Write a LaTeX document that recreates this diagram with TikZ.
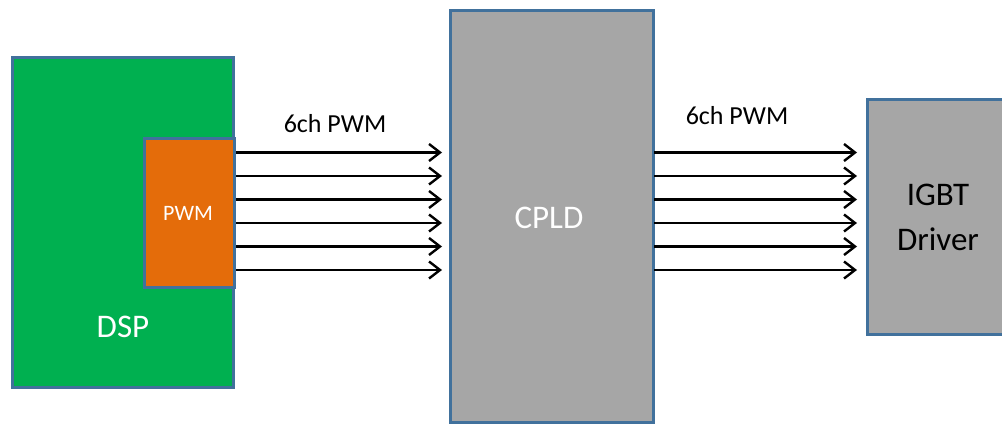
\documentclass[tikz,border=0pt]{standalone}
\usepackage{fontspec}
\setmainfont{Carlito}
\usetikzlibrary{arrows.meta}
\definecolor{edgeblue}{HTML}{41719C}
\definecolor{dspgreen}{HTML}{00B050}
\definecolor{pwmorange}{HTML}{E46C0A}
\definecolor{boxgray}{HTML}{A6A6A6}
\tikzset{
  blk/.style={draw=edgeblue, line width=3pt, inner sep=0pt, outer sep=0pt},
  sig/.style={line width=2.4pt, -{Straight Barb[length=11pt,width=17pt,line width=2.4pt]}},
  bigtxt/.style={font=\fontsize{33}{45}\selectfont, inner sep=0pt},
  midtxt/.style={font=\fontsize{26}{30}\selectfont, inner sep=0pt},
  smalltxt/.style={font=\fontsize{22}{26}\selectfont, inner sep=0pt}
}
\begin{document}
\begin{tikzpicture}[x=1pt,y=-1pt]
\useasboundingbox (0,0) rectangle (1002,425);
\clip (0,0) rectangle (1002,425);
% blocks
\node[blk, fill=dspgreen, minimum width=221pt, minimum height=330pt] (dsp) at (123,222.5) {};
\node[blk, fill=pwmorange, minimum width=90pt, minimum height=148pt] (pwm) at (189,213) {};
\node[blk, fill=boxgray, minimum width=203pt, minimum height=412pt] (cpld) at (551.5,216.5) {};
\node[blk, fill=boxgray, minimum width=150pt, minimum height=235pt] (igbt) at (942,217) {};
% labels
\node[bigtxt, text=white, anchor=base] (dsplabel) at (123,337) {DSP};
\node[smalltxt, text=white, anchor=base] (pwmlabel) at (188,220) {PWM};
\node[bigtxt, text=white, anchor=base] (cpldlabel) at (549,228) {CPLD};
\node[bigtxt, text=black, align=center] (igbtlabel) at (938,217) {IGBT\\Driver};
\node[midtxt, anchor=base] (lbl1) at (335,133) {6ch PWM};
\node[midtxt, anchor=base] (lbl2) at (737,125) {6ch PWM};
% connectors
\foreach \i/\yy in {1/152.5,2/176,3/199.5,4/223,5/246.5,6/270}{
  \coordinate (a\i) at (pwm.east |- 0,\yy);
  \coordinate (b\i) at (cpld.west |- 0,\yy);
  \coordinate (c\i) at (cpld.east |- 0,\yy);
  \coordinate (d\i) at (igbt.west |- 0,\yy);
  \draw[sig, shorten <=2pt, shorten >=8pt] (a\i) -- (b\i);
  \draw[sig, shorten <=1pt, shorten >=10pt] (c\i) -- (d\i);
}
\end{tikzpicture}
\end{document}
